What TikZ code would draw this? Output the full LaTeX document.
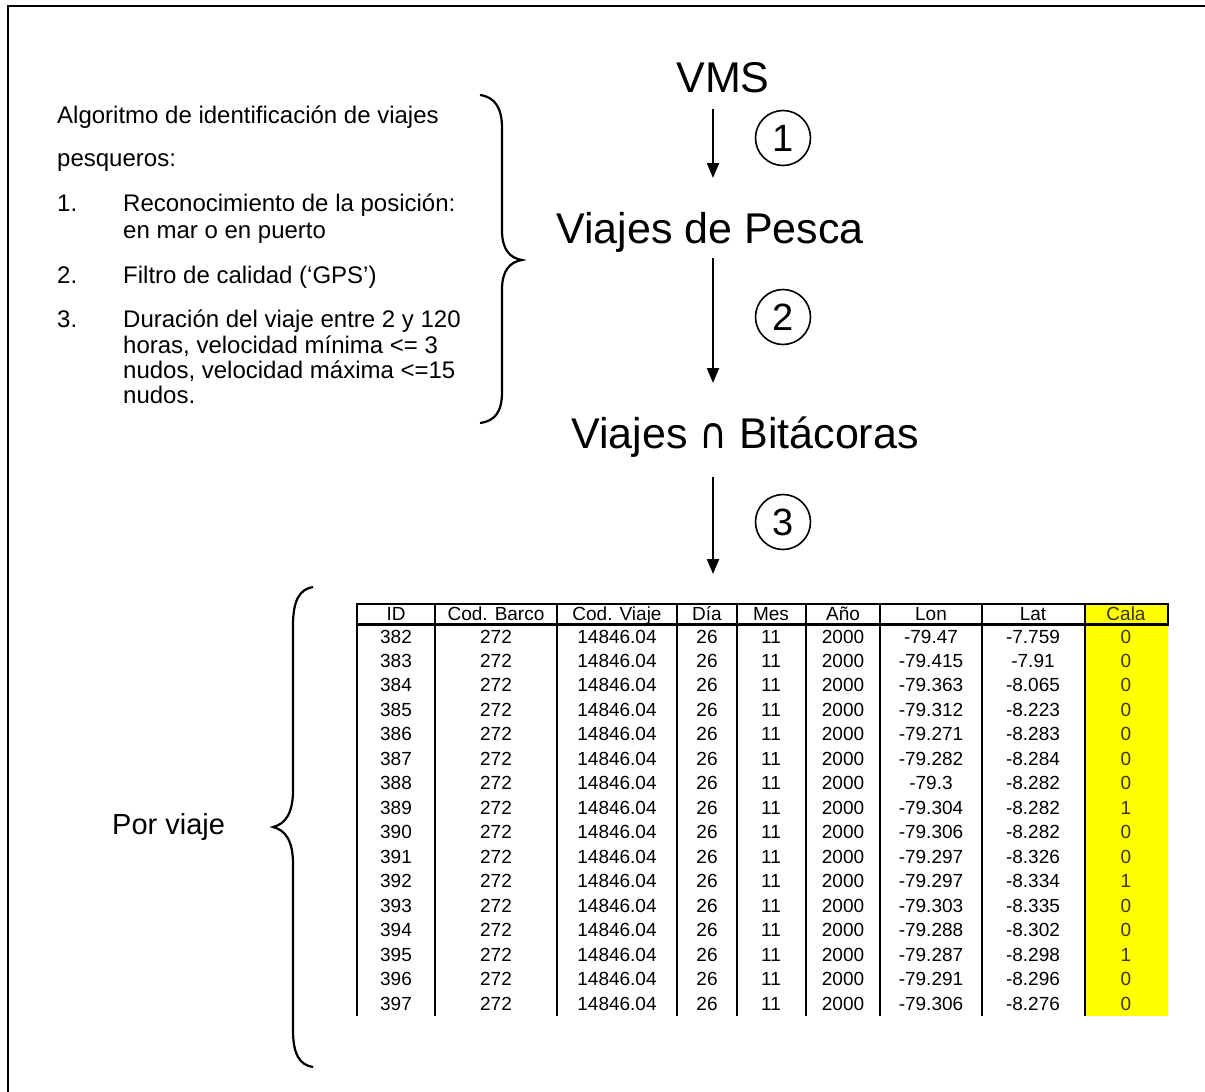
\documentclass[tikz,border=0pt]{standalone}
\usepackage{fontspec}
\usepackage{graphicx}
\setmainfont{Liberation Sans}
\newfontfamily\symfont{DejaVu Sans}
\usetikzlibrary{arrows.meta}
\definecolor{calaY}{RGB}{255,255,0}
\definecolor{calaT}{RGB}{60,52,0}
\begin{document}
\begin{tikzpicture}[x=1pt,y=-1pt,
  big/.style={inner sep=0pt,anchor=base,font=\fontsize{43}{50}\selectfont},
  lefttxt/.style={inner sep=0pt,anchor=base west,font=\fontsize{24}{28}\selectfont},
  cell/.style={inner sep=0pt,anchor=base,font=\fontsize{19}{22}\selectfont},
  calacell/.style={cell,text=calaT},
  num/.style={circle,draw,line width=1.6pt,minimum size=55pt,inner sep=0pt,font=\fontsize{38}{44}\selectfont},
  flow/.style={line width=2.2pt,-{Triangle[width=12pt,length=15pt]}},
  brace/.style={line width=2.2pt},
  grid/.style={line width=2.4pt}]
\useasboundingbox (0,0) rectangle (1205,1092);
% frame
\draw[line width=2.5pt] (8,1100) -- (8,6) -- (1215,6);

% flow text
\node[big] (vms) at (723,92) {VMS};
\node[big] (pesca) at (710,243) {Viajes de Pesca};
\node[big] (bit) at (745,448) {Viajes \resizebox{28pt}{25pt}{\symfont ∩} Bitácoras};

\coordinate (a1s) at (713,109);
\coordinate (a1e) at (713,178);
\coordinate (a2s) at (713,258);
\coordinate (a2e) at (713,383);
\coordinate (a3s) at (713,477);
\coordinate (a3e) at (713,574);
\draw[flow] (a1s) -- (a1e);
\draw[flow] (a2s) -- (a2e);
\draw[flow] (a3s) -- (a3e);

\node[num] (n1) at (783,138) {1};
\node[num] (n2) at (783,317) {2};
\node[num] (n3) at (783,522) {3};

% left text
\node[lefttxt] (t0) at (57,123) {Algoritmo de identificación de viajes};
\node[lefttxt] (t1) at (57,166) {pesqueros:};
\node[lefttxt] (i1) at (57,211) {1.};
\node[lefttxt] (i1a) at (123,211) {Reconocimiento de la posición:};
\node[lefttxt] (i1b) at (123,238) {en mar o en puerto};
\node[lefttxt] (i2) at (57,283) {2.};
\node[lefttxt] (i2a) at (123,283) {Filtro de calidad (‘GPS’)};
\node[lefttxt] (i3) at (57,327) {3.};
\node[lefttxt] (i3a) at (123,327) {Duración del viaje entre 2 y 120};
\node[lefttxt] (i3b) at (123,353) {horas, velocidad mínima <= 3};
\node[lefttxt] (i3c) at (123,378) {nudos, velocidad máxima <=15};
\node[lefttxt] (i3d) at (123,403) {nudos.};

% braces
\draw[brace] (480,95) .. controls (495,97) and (502,108) .. (502,128) -- (502,230)
  .. controls (502,250) and (510,258) .. (522,260)
  .. controls (510,262) and (502,270) .. (502,290) -- (502,392)
  .. controls (502,412) and (495,421) .. (480,423);
\draw[brace] (313,587) .. controls (300,589) and (293,600) .. (293,625) -- (293,790)
  .. controls (293,814) and (285,824) .. (273,827)
  .. controls (285,830) and (293,840) .. (293,864) -- (293,1030)
  .. controls (293,1055) and (300,1065) .. (313,1067);

\node[inner sep=0pt,anchor=base west,font=\fontsize{29}{34}\selectfont] (pv) at (112,834) {Por viaje};

% table
\fill[calaY] (1085,604) rectangle (1168,1016);
\foreach \xx in {357,435,557,677,737,806,880,982,1085}{
  \draw[grid] (\xx,603) -- (\xx,1016);
}
\draw[grid] (1168,603) -- (1168,625);
\draw[grid] (356,604) -- (1169,604);
\draw[grid] (356,624.5) -- (1169,624.5);

\node[cell] (hid) at (396,620) {ID};
\node[cell] (hcb) at (496,620) {Cod. Barco};
\node[cell] (hcv) at (617,620) {Cod. Viaje};
\node[cell] (hdia) at (707,620) {Día};
\node[cell] (hmes) at (771,620) {Mes};
\node[cell] (hano) at (843,620) {Año};
\node[cell] (hlon) at (931,620) {Lon};
\node[cell] (hlat) at (1033,620) {Lat};
\node[calacell] (hcala) at (1126,620) {Cala};

\foreach \id/\lon/\lat/\cala [count=\i from 0] in {
  382/-79.47/-7.759/0, 383/-79.415/-7.91/0, 384/-79.363/-8.065/0,
  385/-79.312/-8.223/0, 386/-79.271/-8.283/0, 387/-79.282/-8.284/0,
  388/-79.3/-8.282/0, 389/-79.304/-8.282/1, 390/-79.306/-8.282/0,
  391/-79.297/-8.326/0, 392/-79.297/-8.334/1, 393/-79.303/-8.335/0,
  394/-79.288/-8.302/0, 395/-79.287/-8.298/1, 396/-79.291/-8.296/0,
  397/-79.306/-8.276/0}{
  \pgfmathsetmacro{\yy}{643+24.47*\i}
  \node[cell] (id\i) at (396,\yy) {\id};
  \node[cell] (cb\i) at (496,\yy) {272};
  \node[cell] (cv\i) at (617,\yy) {14846.04};
  \node[cell] (dia\i) at (707,\yy) {26};
  \node[cell] (mes\i) at (771,\yy) {11};
  \node[cell] (ano\i) at (843,\yy) {2000};
  \node[cell] (lon\i) at (931,\yy) {\lon};
  \node[cell] (lat\i) at (1033,\yy) {\lat};
  \node[calacell] (cala\i) at (1126,\yy) {\cala};
}
\end{tikzpicture}
\end{document}
